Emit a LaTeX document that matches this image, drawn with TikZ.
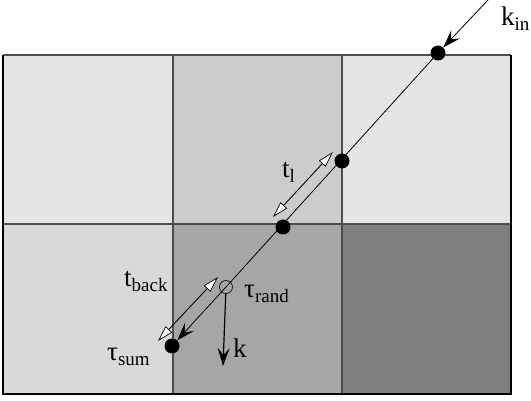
\documentclass[tikz,border=0pt]{standalone}
\usepackage{fontspec}
\setmainfont{Liberation Serif}
\usetikzlibrary{arrows.meta}
\definecolor{cA}{HTML}{E5E5E5}
\definecolor{cB}{HTML}{CCCCCC}
\definecolor{cC}{HTML}{D9D9D9}
\definecolor{cD}{HTML}{A6A6A6}
\definecolor{cE}{HTML}{7F7F7F}
\definecolor{gridline}{HTML}{4D4D4D}
\tikzset{
  cell/.style={draw=gridline, line width=1.2pt},
  dot/.style={circle, fill=black, inner sep=0pt, minimum size=15pt},
  odot/.style={circle, draw=black, line width=0.6pt, inner sep=0pt, minimum size=13pt},
  traj/.style={line width=0.8pt, black},
  whitehead/.style={line width=0.9pt, {Triangle[fill=white,length=16pt,width=9pt,line width=0.7pt]}-{Triangle[fill=white,length=16pt,width=9pt,line width=0.7pt]}},
  blackhead/.style={-{Stealth[length=18pt,width=12pt,inset=7pt]}},
  lbl/.style={inner sep=0pt, anchor=base west, font=\fontsize{27}{27}\selectfont}
}
\newcommand{\sbs}[1]{{\fontsize{19}{19}\selectfont\raisebox{-5pt}{#1}}}
\begin{document}
\begin{tikzpicture}[x=1pt,y=-1pt]
\useasboundingbox (0,0) rectangle (531,401);
% cells
\fill[cA] (3,55) rectangle (173,224);
\fill[cB] (173,55) rectangle (342,224);
\fill[cA] (342,55) rectangle (511,224);
\fill[cC] (3,224) rectangle (173,394);
\fill[cD] (173,224) rectangle (342,394);
\fill[cE] (342,224) rectangle (511,394);
\draw[cell] (173,55) -- (173,394);
\draw[cell] (342,55) -- (342,394);
\draw[cell] (3,224) -- (511,224);
\draw[cell] (3,55) -- (511,55);
\draw[line width=1.2pt, black] (3,55) -- (3,394) -- (511,394) -- (511,55);
% points
\node[dot] (p1) at (438,53) {};
\node[dot] (p2) at (342,161) {};
\node[dot] (p3) at (283,227) {};
\node[odot] (pr) at (226,287) {};
\node[dot] (ps) at (172,346) {};
\coordinate (kstart) at (488,0);
\coordinate (kend) at (223,366);
% trajectory
\draw[traj, blackhead] (kstart) -- (p1);
\draw[traj] (p1.center) -- (pr.center);
\draw[traj, blackhead] (pr.center) -- (ps);
\draw[line width=1.2pt, blackhead] (pr) -- (kend);
% double arrows
\coordinate (tl1) at (273,217);
\coordinate (tl2) at (333,152);
\coordinate (tb1) at (158,341);
\coordinate (tb2) at (218,277);
\draw[whitehead] (tl1) -- (tl2);
\draw[whitehead] (tb1) -- (tb2);
% labels
\node[lbl] (lkin) at (501,26) {k\sbs{in}};
\node[lbl] (ltl) at (282,178) {t\sbs{l}};
\node[lbl] (ltb) at (124,287) {t\sbs{back}};
\node[lbl] (ltr) at (244,298) {τ\sbs{rand}};
\node[lbl] (lts) at (107,360) {τ\sbs{sum}};
\node[lbl] (lk) at (233,357) {k};
\end{tikzpicture}
\end{document}
